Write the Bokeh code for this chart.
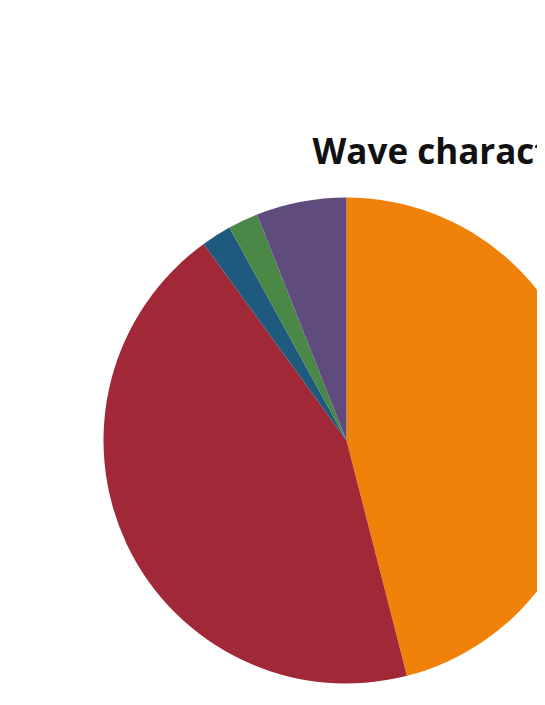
import math
from bokeh.plotting import figure
from bokeh.models import Range1d, ColumnDataSource
from bokeh.core.properties import value
from bokeh.embed import file_html
from bokeh.resources import INLINE

categories = ["Orange", "Red", "Blue", "Green", "Purple"]
values = [46, 44, 2, 2, 6]
colors = ["#F0820A", "#A02837", "#1E5A7D", "#4B8746", "#5F4B7D"]
title_text = "Wave characteristics"

W, H = 537, 689
cx, cy = 346, 440  # pixel position of pie center within figure

p = figure(width=W, height=H, output_backend="svg", toolbar_location=None,
           x_range=Range1d(-cx, W - cx), y_range=Range1d(-(H - cy), cy),
           min_border=0)
p.axis.visible = False
p.grid.visible = False
p.outline_line_color = None
p.background_fill_color = "white"
p.border_fill_color = "white"

total = float(sum(values))
starts, ends = [], []
cum = 0.0
for v in values:
    starts.append(math.pi / 2 - 2 * math.pi * cum / total)
    cum += v
    ends.append(math.pi / 2 - 2 * math.pi * cum / total)

src = ColumnDataSource(dict(cat=categories, val=values, color=colors,
                            start=starts, end=ends,
                            x=[0] * len(values), y=[0] * len(values)))
p.wedge(x="x", y="y", radius=243, radius_units="screen",
        start_angle="start", end_angle="end", direction="clock",
        fill_color="color", line_color=None, source=src)

p.text(x=[312 - cx], y=[cy - 150], text=[title_text], text_font=value("Open Sans"),
       text_font_style="bold", text_font_size="35px", text_baseline="middle",
       text_align="left", text_color="#111111")

open("out.html", "w").write(file_html(p, INLINE))
